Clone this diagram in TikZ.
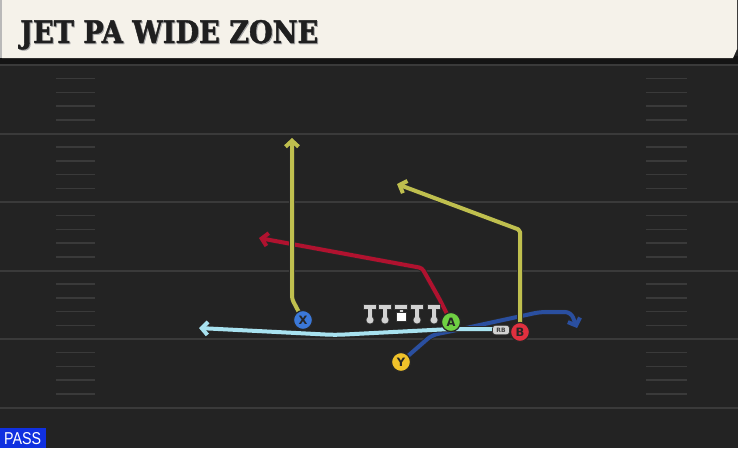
\documentclass[tikz,border=0pt]{standalone}
\usepackage{fontspec}
\usetikzlibrary{arrows.meta}
\newfontfamily\titlefont{DejaVu Serif}[BoldFeatures={FakeBold=1.5}]
\newfontfamily\labfont{DejaVu Sans}
\newfontfamily\passfont{Liberation Sans}
\definecolor{bg}{HTML}{232323}
\definecolor{yard}{HTML}{3A3A3A}
\definecolor{hdr}{HTML}{F5F2EA}
\definecolor{olive}{HTML}{BFBF4E}
\definecolor{redroute}{HTML}{B0122F}
\definecolor{lblue}{HTML}{A8E2F0}
\definecolor{dblue}{HTML}{2A4FA0}
\definecolor{pX}{HTML}{3B78D8}
\definecolor{pA}{HTML}{6FD043}
\definecolor{pB}{HTML}{E0303F}
\definecolor{pY}{HTML}{F0C22A}
\definecolor{olgray}{HTML}{D2D2D2}
\definecolor{passblue}{HTML}{1030E0}
\newcommand{\titletext}{\resizebox{298pt}{23pt}{\raisebox{0pt}[\height][0pt]{\titlefont\bfseries JET PA WIDE ZONE}}}
\tikzset{
  route/.style={line width=4pt, line join=round, line cap=round,
    -{Straight Barb[length=6pt,width=13pt,line width=4pt]},
    preaction={draw=black!85, line width=5.6pt,
      -{Straight Barb[length=6pt,width=13pt,line width=5.6pt]}}},
  player/.style={circle, draw=black!85, line width=1.2pt, minimum size=19pt,
    inner sep=0pt, font=\labfont\bfseries\fontsize{11.5}{11.5}\selectfont, text=black!85},
  hashmark/.style={draw=yard, line width=1.5pt},
  yardline/.style={draw=yard, line width=2pt},
  lineman/.style={fill=olgray, draw=black!80, line width=0.6pt}
}
\begin{document}
\begin{tikzpicture}[x=1pt,y=-1pt]
\useasboundingbox (0,0) rectangle (738,448);
\fill[bg] (0,0) rectangle (738,448);
% yard lines
\foreach \k in {0,...,5}{
  \pgfmathsetmacro{\yy}{65+68.5*\k}
  \draw[yardline] (0,\yy) -- (738,\yy);
}
% hash marks
\foreach \k in {0,...,4}{
  \foreach \j in {1,...,4}{
    \pgfmathsetmacro{\yy}{65+68.5*\k+13.7*\j}
    \draw[hashmark] (56,\yy) -- (95,\yy);
    \draw[hashmark] (646,\yy) -- (687,\yy);
  }
}
% header
\fill[black!92] (0,56) rectangle (738,64);
\fill[hdr] (2,0) -- (737,0) -- (737,49) -- (733,58) -- (2,58) -- cycle;
\fill[gray!55] (0,0) rectangle (2,58);
\node[anchor=base west, inner sep=0pt, text=gray!70] at (21,44) {\titletext};
\node[anchor=base west, inner sep=0pt, text=black!88] (title) at (20,43) {\titletext};

% players (positions)
\coordinate (Xc) at (303,320);
\coordinate (Ac) at (451,322);
\coordinate (Bc) at (520,332);
\coordinate (Yc) at (401,362);

% route waypoints
\coordinate (y1) at (432,335);
\coordinate (y2) at (452,331);
\coordinate (y3) at (540,312);
\coordinate (y4) at (571,312);
\coordinate (yEnd) at (577,328);
\coordinate (j0) at (493,329);
\coordinate (j1) at (451,329);
\coordinate (j2) at (335,335);
\coordinate (jEnd) at (199,328);
\coordinate (a1) at (440,300);
\coordinate (a2) at (422,268);
\coordinate (aEnd) at (259,238);
\coordinate (x1) at (292,299);
\coordinate (xEnd) at (292,138);
\coordinate (b1) at (520,230);
\coordinate (bEnd) at (397,184);

% dark blue route (Y)
\draw[route, dblue, rounded corners=6pt] (Yc) -- (y1) -- (y2) -- (y3) -- (y4) -- (yEnd);
% light blue jet route
\draw[route, lblue, rounded corners=8pt] (j0) -- (j1) -- (j2) -- (jEnd);
% red route (A)
\draw[route, redroute, rounded corners=3pt] (Ac) -- (a1) -- (a2) -- (aEnd);
% yellow routes
\draw[route, olive, rounded corners=3pt] (Xc) -- (x1) -- (xEnd);
\draw[route, olive, rounded corners=2pt] (Bc) -- (b1) -- (bEnd);

% offensive line
\foreach \x in {370,385,417,434}{
  \fill[lineman] (\x-6.5,304.5) rectangle (\x+6.5,309.5);
  \fill[lineman] (\x-2.2,309.5) rectangle (\x+2.2,318);
  \fill[lineman] (\x,320) circle (4pt);
  \fill[olgray] (\x-1.8,308.5) rectangle (\x+1.8,318.5);
}
\fill[lineman] (401-6.5,304) rectangle (401+6.5,309);
\fill[lineman] (401-2.2,309) rectangle (401+2.2,313);
\fill[draw=black!80, line width=0.6pt, fill=white] (401-4.8,312) rectangle (401+4.8,321.5);

% RB tag
\node[fill=olgray, draw=black!80, line width=0.6pt, rounded corners=3pt,
  minimum width=17pt, minimum height=9.5pt, inner sep=0pt,
  font=\labfont\bfseries\fontsize{6}{6}\selectfont, text=black!75] (RB) at (501,330) {RB};

% players
\node[player, fill=pX] (X) at (Xc) {X};
\node[player, fill=pA] (A) at (Ac) {A};
\node[player, fill=pB] (B) at (Bc) {B};
\node[player, fill=pY] (Y) at (Yc) {Y};

% PASS label
\fill[passblue] (0,428) rectangle (46,448);
\node[anchor=base west, inner sep=0pt, text=white] (pass) at (4,444)
  {\resizebox{37pt}{12pt}{\passfont PASS}};
\end{tikzpicture}
\end{document}
